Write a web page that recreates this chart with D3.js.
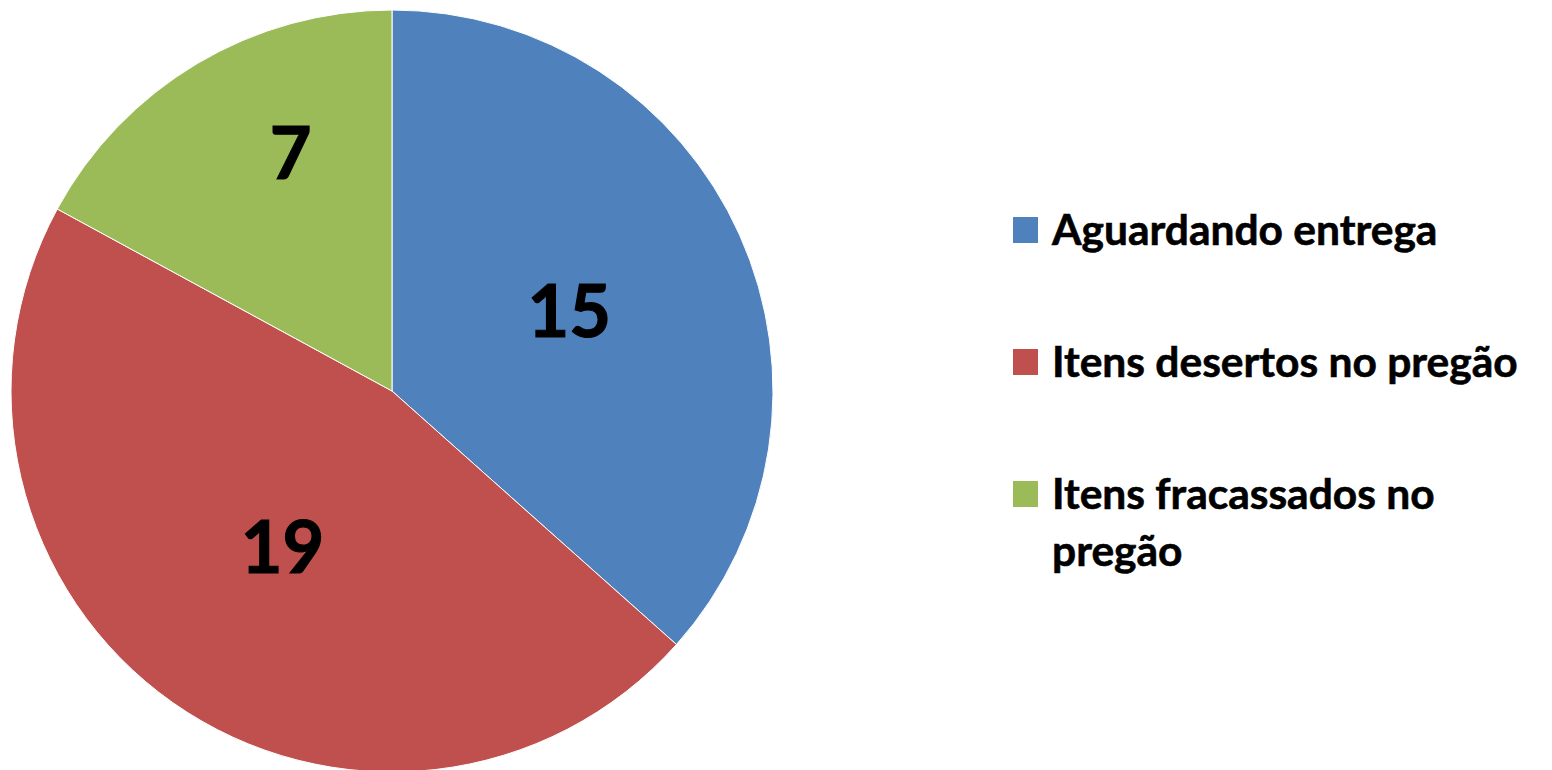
<!DOCTYPE html>
<html><head><meta charset="utf-8">
<script src="https://cdn.jsdelivr.net/npm/d3@7/dist/d3.min.js"></script>
<style>html,body{margin:0;padding:0;background:#fff;}svg{display:block;}</style>
</head><body>
<svg id="chart" width="1552" height="770"></svg>
<script>
const categories = ["Aguardando entrega", "Itens desertos no pregão", "Itens fracassados no pregão"];
const values = [15, 19, 7];
const colors = ["#4F81BD", "#C0504D", "#9BBB59"];

// layout (not data)
const W = 1552, H = 770;
const cx = 392, cy = 391, R = 381;
const labelPos = [ {rf: 0.51, da: 0}, {rf: 0.50, da: 0}, {rf: 0.68, da: 0.134} ];
const FONT = "Lato, 'Open Sans', sans-serif";

const svg = d3.select("#chart");
const pie = d3.pie().sort(null).value(d => d)(values);
const arc = d3.arc().innerRadius(0).outerRadius(R);

const g = svg.append("g").attr("transform", `translate(${cx},${cy})`);
g.selectAll("path.slice").data(pie).join("path")
  .attr("class", "slice")
  .attr("d", arc)
  .attr("fill", (d, i) => colors[i])
  .attr("stroke", "#fff")
  .attr("stroke-width", 1);

g.selectAll("text.lbl").data(pie).join("text")
  .attr("class", "lbl")
  .attr("transform", (d, i) => {
    const a = (d.startAngle + d.endAngle) / 2 + labelPos[i].da;
    const r = R * labelPos[i].rf;
    return `translate(${r * Math.sin(a)},${-r * Math.cos(a)})`;
  })
  .attr("text-anchor", "middle")
  .attr("dy", "0.36em")
  .attr("font-family", FONT)
  .attr("font-weight", "bold")
  .attr("font-size", 72)
  .attr("fill", "#000")
  .attr("stroke", "#000")
  .attr("stroke-width", 1.2)
  .text(d => d.data);

// legend
const legendLines = [["Aguardando entrega"], ["Itens desertos no pregão"], ["Itens fracassados no", "pregão"]];
const legY = d3.scalePoint().domain(d3.range(categories.length)).range([230, 494]);
const lg = svg.append("g");
const items = lg.selectAll("g.item").data(categories).join("g")
  .attr("class", "item")
  .attr("transform", (d, i) => `translate(1013,${legY(i)})`);
items.append("rect")
  .attr("x", 0).attr("y", -13).attr("width", 25).attr("height", 26)
  .attr("fill", (d, i) => colors[i]);
items.append("text")
  .attr("x", 39)
  .attr("font-family", FONT)
  .attr("font-weight", "bold")
  .attr("font-size", 42.5)
  .attr("fill", "#000")
  .attr("stroke", "#000")
  .attr("stroke-width", 0.6)
  .selectAll("tspan").data((d, i) => legendLines[i]).join("tspan")
  .attr("x", 39)
  .attr("y", (d, j) => 15 + j * 57)
  .text(d => d);
</script>
</body></html>
